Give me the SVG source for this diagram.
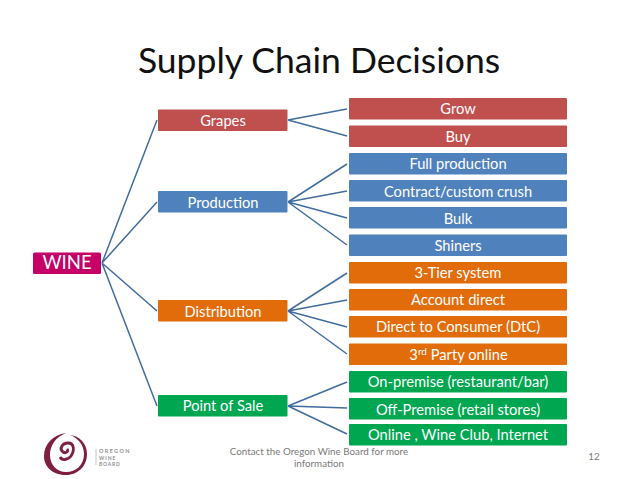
<svg xmlns="http://www.w3.org/2000/svg" width="638" height="479" viewBox="0 0 638 479">
<style>
text{font-family:Lato,"Open Sans",sans-serif;text-anchor:middle}
.l{font-size:14.700px;fill:#fff}
.r{fill:#c0504d}.b{fill:#4f81bd}.o{fill:#e36c0a}.g{fill:#00a650}
.c{fill:none;stroke:#416c9e;stroke-width:1.500}
.f{font-size:9.800px;fill:#7a7a7a}
.t{text-anchor:start;font-weight:700;fill:#8f8f8f}
</style>
<rect width="638" height="479" fill="#fff"/>
<text x="319" y="72.500" font-size="35.500" fill="#111">Supply Chain Decisions</text>
<g id="connectors">
<path class="c" d="M102 263L157 120M102 263L157 202M102 263L157 311M102 263L157 406"/>
<path class="c" d="M288 120L347 109M288 120L347 136"/>
<path class="c" d="M288 202L347 164M288 202L347 191M288 202L347 218M288 202L347 245"/>
<path class="c" d="M288 311L347 273M288 311L347 300M288 311L347 327M288 311L347 354"/>
<path class="c" d="M288 406L347 382M288 406L347 408M288 406L347 434"/>
</g>
<g id="wine"><rect x="33" y="252.500" width="68" height="21.500" rx="1.500" fill="#c50066"/><text x="67" y="269" font-size="18.500" fill="#fff">WINE</text></g>
<g id="grapes"><rect class="r" x="158" y="109.500" width="129.500" height="21.500" rx="1"/><text class="l" x="223" y="125.500">Grapes</text></g>
<g id="production"><rect class="b" x="158" y="191" width="129.500" height="21.500" rx="1"/><text class="l" x="223" y="207.500">Production</text></g>
<g id="distribution"><rect class="o" x="158" y="300" width="129.500" height="21.500" rx="1"/><text class="l" x="223" y="316.500">Distribution</text></g>
<g id="pos"><rect class="g" x="158" y="395" width="129.500" height="21.500" rx="1"/><text class="l" x="223" y="411">Point of Sale</text></g>
<g id="grow"><rect class="r" x="349" y="98" width="218" height="21.500" rx="1"/><text class="l" x="458" y="114">Grow</text></g>
<g id="buy"><rect class="r" x="349" y="125.500" width="218" height="21.500" rx="1"/><text class="l" x="458" y="141.500">Buy</text></g>
<g id="full"><rect class="b" x="349" y="153" width="218" height="21.500" rx="1"/><text class="l" x="458" y="168.500">Full production</text></g>
<g id="contract"><rect class="b" x="349" y="180" width="218" height="21.500" rx="1"/><text class="l" x="458" y="196.500">Contract/custom crush</text></g>
<g id="bulk"><rect class="b" x="349" y="207" width="218" height="21.500" rx="1"/><text class="l" x="458" y="223.500">Bulk</text></g>
<g id="shiners"><rect class="b" x="349" y="234.500" width="218" height="21.500" rx="1"/><text class="l" x="458" y="250.500">Shiners</text></g>
<g id="tier"><rect class="o" x="349" y="262" width="218" height="21.500" rx="1"/><text class="l" x="458" y="277.500">3-Tier system</text></g>
<g id="account"><rect class="o" x="349" y="289" width="218" height="21.500" rx="1"/><text class="l" x="458" y="305">Account direct</text></g>
<g id="dtc"><rect class="o" x="349" y="316" width="218" height="21.500" rx="1"/><text class="l" x="458" y="332">Direct to Consumer (DtC)</text></g>
<g id="third"><rect class="o" x="349" y="343.500" width="218" height="21.500" rx="1"/><text class="l" x="458.500" y="359.500" font-size="15.500">3<tspan font-size="10" dy="-5">rd</tspan><tspan dy="5"> Party online</tspan></text></g>
<g id="onprem"><rect class="g" x="349" y="371" width="218" height="21.500" rx="1"/><text class="l" x="458" y="386.500" font-size="15">On-premise (restaurant/bar)</text></g>
<g id="offprem"><rect class="g" x="349" y="398" width="218" height="21.500" rx="1"/><text class="l" x="458" y="414.500">Off-Premise (retail stores)</text></g>
<g id="online"><rect class="g" x="349" y="424" width="218" height="21.500" rx="1"/><text class="l" x="458" y="439.500">Online , Wine Club, Internet</text></g>
<g id="logo">
<path d="M66 433C53 435 44 444 44 456C44 468 54 475 66 475C78 475 87 466 87 454C87 443 79 436 70 435C78 438 84 445 84 454C84 465 76 472 66 472C57 472 50 465 50 455C50 445 56 437 66 433Z" fill="#7d1f3d"/>
<path d="M60 457C62 461 68 460 71 456C75 450 74 443 68 443C62 443 59 449 63 452C66 454 69 451 67 449" fill="none" stroke="#7d1f3d" stroke-width="2.800"/>
<path d="M96 449V465" stroke="#c4c4c4" stroke-width="1"/>
<text class="t" x="99" y="453" font-size="5.500" letter-spacing="1.350">OREGON</text>
<text class="t" x="99" y="459.500" font-size="5" letter-spacing="1">WINE</text>
<text class="t" x="99" y="466" font-size="5" letter-spacing=".8">BOARD</text>
</g>
<text class="f" x="319" y="454.500">Contact the Oregon Wine Board for more</text>
<text class="f" x="319" y="466.500">information</text>
<text class="f" x="594" y="460">12</text>
</svg>
